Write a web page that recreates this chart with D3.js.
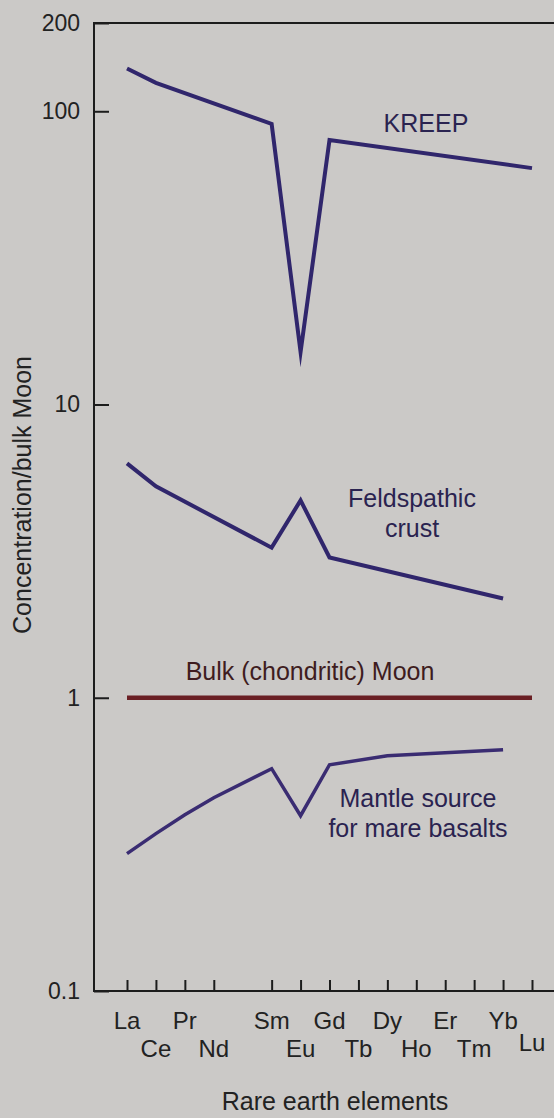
<!DOCTYPE html>
<html>
<head>
<meta charset="utf-8">
<script src="https://cdn.jsdelivr.net/npm/d3@7"></script>
<style>
  html, body { margin: 0; padding: 0; background: #cbc9c7; }
  svg { display: block; font-family: "Liberation Sans", Arial, sans-serif; }
</style>
</head>
<body>
<svg id="chart" width="554" height="1118"></svg>
<script>
// rare earth elements, Pm has no tick or label
var elements = ["La", "Ce", "Pr", "Nd", "Pm", "Sm", "Eu", "Gd", "Tb", "Dy", "Ho", "Er", "Tm", "Yb", "Lu"];
var labelRow = [1, 2, 1, 2, 0, 1, 2, 1, 2, 1, 2, 1, 2, 1, 1.8];
var yTicks = [200, 100, 10, 1, 0.1];

// values (null = no vertex there)
var kreep       = [140, 125, null, null, null, 90.5, 15.1, 79.8, null, null, null, null, null, null, 64];
var feldspathic = [6.3, 5.26, null, null, null, 3.25, 4.71, 3.01, null, null, null, null, null, 2.18, null];
var bulkMoon    = [1, null, null, null, null, null, null, null, null, null, null, null, null, null, 1];
var mantle      = [0.294, 0.344, 0.399, 0.456, null, 0.573, 0.396, 0.591, null, 0.634, null, null, null, 0.665, null];

var W = 554, H = 1118,
    axLeft = 94, axTop = 23, axBottom = 991;

var svg = d3.select("#chart");

var x = d3.scalePoint().domain(elements).range([127, 532]);
var y = d3.scaleLog().domain([0.1, 200]).range([axBottom, axTop]);

var toPoints = (vals) => vals
  .map((v, i) => ({ el: elements[i], v: v }))
  .filter((d) => d.v != null);

var line = d3.line()
  .x((d) => x(d.el))
  .y((d) => y(d.v));

// frame
svg.append("path")
  .attr("d", "M" + W + "," + axTop + "H" + axLeft + "V" + axBottom + "H" + W)
  .attr("fill", "none")
  .attr("stroke", "#1c1c1c")
  .attr("stroke-width", 2);

// y axis
var yAxis = svg.append("g")
  .attr("transform", "translate(" + axLeft + ",0)")
  .call(d3.axisLeft(y)
    .tickValues(yTicks)
    .tickFormat(d3.format("~g"))
    .tickSizeInner(-15)
    .tickSizeOuter(0)
    .tickPadding(14));
yAxis.select(".domain").remove();
yAxis.selectAll(".tick line").attr("stroke", "#1c1c1c").attr("stroke-width", 2);
yAxis.selectAll(".tick text")
  .attr("font-size", 23)
  .attr("fill", "#222")
  .attr("font-family", "Liberation Sans, Arial, sans-serif");

// x axis ticks (pointing up)
var xAxis = svg.append("g")
  .attr("transform", "translate(0," + axBottom + ")")
  .call(d3.axisBottom(x)
    .tickValues(elements.filter((e) => e !== "Pm"))
    .tickFormat("")
    .tickSizeInner(-11)
    .tickSizeOuter(0));
xAxis.select(".domain").remove();
xAxis.selectAll(".tick line").attr("stroke", "#1c1c1c").attr("stroke-width", 2);

// element labels in two rows
svg.append("g").selectAll("text")
  .data(elements.map((e, i) => ({ el: e, row: labelRow[i] })).filter((d) => d.row > 0))
  .join("text")
  .attr("x", (d) => x(d.el))
  .attr("y", (d) => axBottom + 10 + d.row * 28)
  .attr("text-anchor", "middle")
  .attr("font-size", 24)
  .attr("fill", "#222")
  .text((d) => d.el);

// axis titles
svg.append("text")
  .attr("x", 335).attr("y", 1110)
  .attr("text-anchor", "middle")
  .attr("font-size", 25)
  .attr("fill", "#222")
  .text("Rare earth elements");

svg.append("text")
  .attr("transform", "translate(31,495) rotate(-90)")
  .attr("text-anchor", "middle")
  .attr("font-size", 25)
  .attr("fill", "#222")
  .text("Concentration/bulk Moon");

// series
var series = [
  { name: "bulk", vals: bulkMoon, color: "#6a1f24", width: 4.5 },
  { name: "kreep", vals: kreep, color: "#30266c", width: 4 },
  { name: "feld", vals: feldspathic, color: "#30266c", width: 4 },
  { name: "mantle", vals: mantle, color: "#3a2c72", width: 3.5 }
];

svg.append("g").selectAll("path")
  .data(series)
  .join("path")
  .attr("d", (d) => line(toPoints(d.vals)))
  .attr("fill", "none")
  .attr("stroke", (d) => d.color)
  .attr("stroke-width", (d) => d.width)
  .attr("stroke-linejoin", "miter")
  .attr("stroke-miterlimit", 20);

// series labels
var labels = [
  { lines: ["KREEP"], x: 426, y: 132, color: "#2a2350" },
  { lines: ["Feldspathic", "crust"], x: 412, y: 507, color: "#2a2350" },
  { lines: ["Bulk (chondritic) Moon"], x: 310, y: 680, color: "#3e1c20" },
  { lines: ["Mantle source", "for mare basalts"], x: 418, y: 807, color: "#2a2350" }
];

labels.forEach((l) => {
  var t = svg.append("text")
    .attr("text-anchor", "middle")
    .attr("font-size", 25)
    .attr("fill", l.color);
  l.lines.forEach((s, i) => {
    t.append("tspan")
      .attr("x", l.x)
      .attr("y", l.y + i * 30)
      .text(s);
  });
});
</script>
</body>
</html>
